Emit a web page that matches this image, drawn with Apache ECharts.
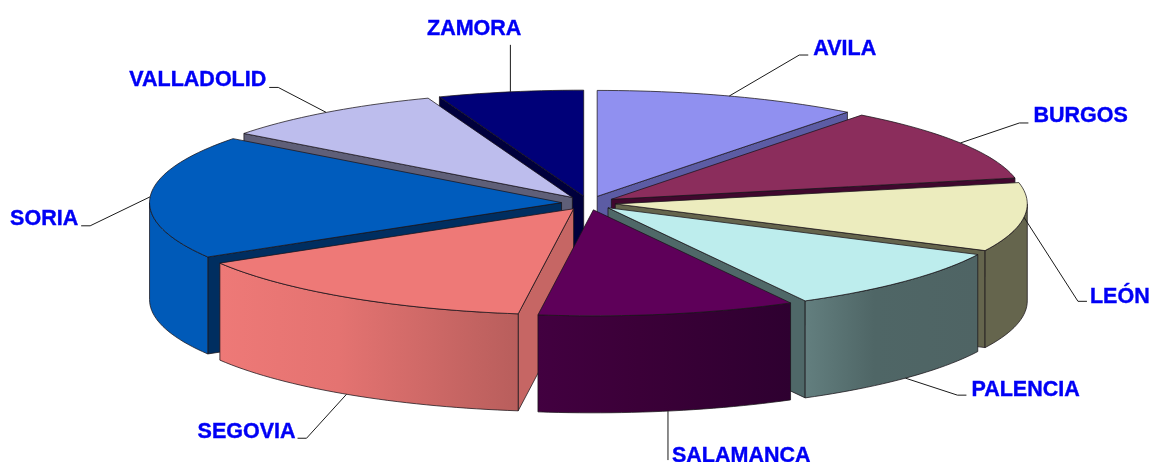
<!DOCTYPE html>
<html>
<head>
<meta charset="utf-8">
<style>html,body{margin:0;padding:0;background:#fff}#c{width:1151px;height:462px}</style>
<script src="https://cdn.jsdelivr.net/npm/echarts@6/dist/echarts.min.js"></script>
</head>
<body>
<div id="c"></div>
<script>
// Data (share of the pie, %)
var provinces = ['AVILA','BURGOS','LEÓN','PALENCIA','SALAMANCA','SEGOVIA','SORIA','VALLADOLID','ZAMORA'];
var shares = [10.4, 11.4, 10.5, 9.8, 10.1, 14.3, 18.9, 9.0, 5.7];

// Styles
var topColors   = ['#9090F0','#8B2D5C','#ECECBE','#BDEDED','#5E0059','#EE7977','#005CBD','#BDBDED','#000078'];
var wallColors  = ['#5C5CA4','#40082E','#65654D','#4F6868','#3A003A','#C66664','#002E60','#5F5F78','#00003C'];
var outerFrom   = ['#5C5CA4','#40082E','#65654D','#637F7F','#420040','#EE7977','#005AB8','#5F5F78','#00003C'];
var outerMid    = ['#5C5CA4','#40082E','#65654D','#4F6666','#3B0038','#E47371','#005AB8','#5F5F78','#00003C'];
var outerTo     = ['#5C5CA4','#40082E','#65654D','#4F6464','#2E0030','#B85E5C','#005AB8','#5F5F78','#00003C'];

// Layout of the projected pie and its labels
var CX = 588.5, CY = 203, RX = 412, RY = 106, DEPTH = 97, EXPLODE = 27;
// leader: offset of elbow from the rim point, horizontal stub, text offset from stub end, alignment
var labelLayout = [
  {elbow:[70,-41],  stub:9,   text:[5,-6],  align:'left'},
  {elbow:[59,-20],  stub:9,   text:[5,-7],  align:'left'},
  {elbow:[54,84],   stub:9,   text:[3,-4],  align:'left'},
  {elbow:[52,17],   stub:9,   text:[5,-5],  align:'left'},
  {elbow:[0,49],    stub:0,   text:[4,-4],  align:'left'},
  {elbow:[-40,44],  stub:-9,  text:[-2,-6], align:'right'},
  {elbow:[-60,29],  stub:-9,  text:[-3,-7], align:'right'},
  {elbow:[-48,-25], stub:-9,  text:[-3,-7], align:'right'},
  {elbow:[0,-47],   stub:0,   text:[11,-16],align:'right'}
];

var total = shares.reduce(function (a, b) { return a + b; }, 0);
var cursor = 0;
var slices = shares.map(function (v, i) {
  var start = cursor, end = cursor + v / total * 360;
  cursor = end;
  return {name: provinces[i], start: start, end: end, mid: (start + end) / 2};
});

function rad(d) { return d * Math.PI / 180; }
function project(sl, r, a, drop) {
  var ox = CX + EXPLODE * Math.sin(rad(sl.mid));
  var oy = CY - EXPLODE * RY / RX * Math.cos(rad(sl.mid));
  return [ox + r * RX * Math.sin(rad(a)), oy - r * RY * Math.cos(rad(a)) + (drop || 0)];
}
function arc(sl, a0, a1, drop) {
  var pts = [], n = Math.max(2, Math.ceil((a1 - a0) / 1.5));
  for (var k = 0; k <= n; k++) pts.push(project(sl, 1, a0 + (a1 - a0) * k / n, drop));
  return pts;
}
var EDGE = 'rgba(25,20,25,0.75)';

function renderSlice(params, api) {
  var i = api.value(0), sl = slices[i], kids = [], base = Math.round(-Math.cos(rad(sl.mid)) * 100) + 200;
  function wall(a) {
    var o = project(sl, 0, 0), e = project(sl, 1, a);
    kids.push({type:'polygon', z2:base,
      shape:{points:[o, e, [e[0], e[1] + DEPTH], [o[0], o[1] + DEPTH]]},
      style:{fill:wallColors[i], stroke:EDGE, lineWidth:1}});
  }
  if (sl.start > 180) wall(sl.start);
  if (sl.end < 180) wall(sl.end);
  var a0 = Math.max(sl.start, 90), a1 = Math.min(sl.end, 270);
  if (a1 > a0) {
    var upper = arc(sl, a0, a1, 0), lower = arc(sl, a0, a1, DEPTH).reverse();
    kids.push({type:'polygon', z2:base + 1,
      shape:{points:upper.concat(lower)},
      style:{
        fill:new echarts.graphic.LinearGradient(0, 0, 1, 0, [
          {offset:0, color:outerFrom[i]},
          {offset:0.4, color:outerMid[i]},
          {offset:1, color:outerTo[i]}]),
        stroke:EDGE, lineWidth:1}});
  }
  kids.push({type:'polygon', z2:base + 2,
    shape:{points:[project(sl, 0, 0)].concat(arc(sl, sl.start, sl.end, 0))},
    style:{fill:topColors[i], stroke:EDGE, lineWidth:1}});

  var front = sl.mid > 120 && sl.mid < 240;
  var rim = project(sl, 1, sl.mid, front ? DEPTH : 0);
  var L = labelLayout[i];
  var elbow = [rim[0] + L.elbow[0], rim[1] + L.elbow[1]];
  var endp = [elbow[0] + L.stub, elbow[1]];
  kids.push({type:'polyline', z2:500,
    shape:{points:[rim, elbow, endp]},
    style:{fill:null, stroke:'#1a1a1a', lineWidth:1}});
  kids.push({type:'text', z2:501,
    style:{text:sl.name, x:endp[0] + L.text[0], y:endp[1] + L.text[1],
      textAlign:L.align, textVerticalAlign:'middle',
      fill:'#0000F5', stroke:'#0000F5', lineWidth:0.4,
      font:'bold 21.5px "Liberation Sans", Arial, sans-serif'}});
  return {type:'group', children:kids};
}

var chart = echarts.init(document.getElementById('c'), null, {renderer:'canvas'});
chart.setOption({
  backgroundColor:'#ffffff',
  animation:false,
  series:[{
    type:'custom',
    coordinateSystem:'none',
    silent:true,
    renderItem:renderSlice,
    data:shares.map(function (v, i) { return [i, v]; })
  }]
});
</script>
</body>
</html>
